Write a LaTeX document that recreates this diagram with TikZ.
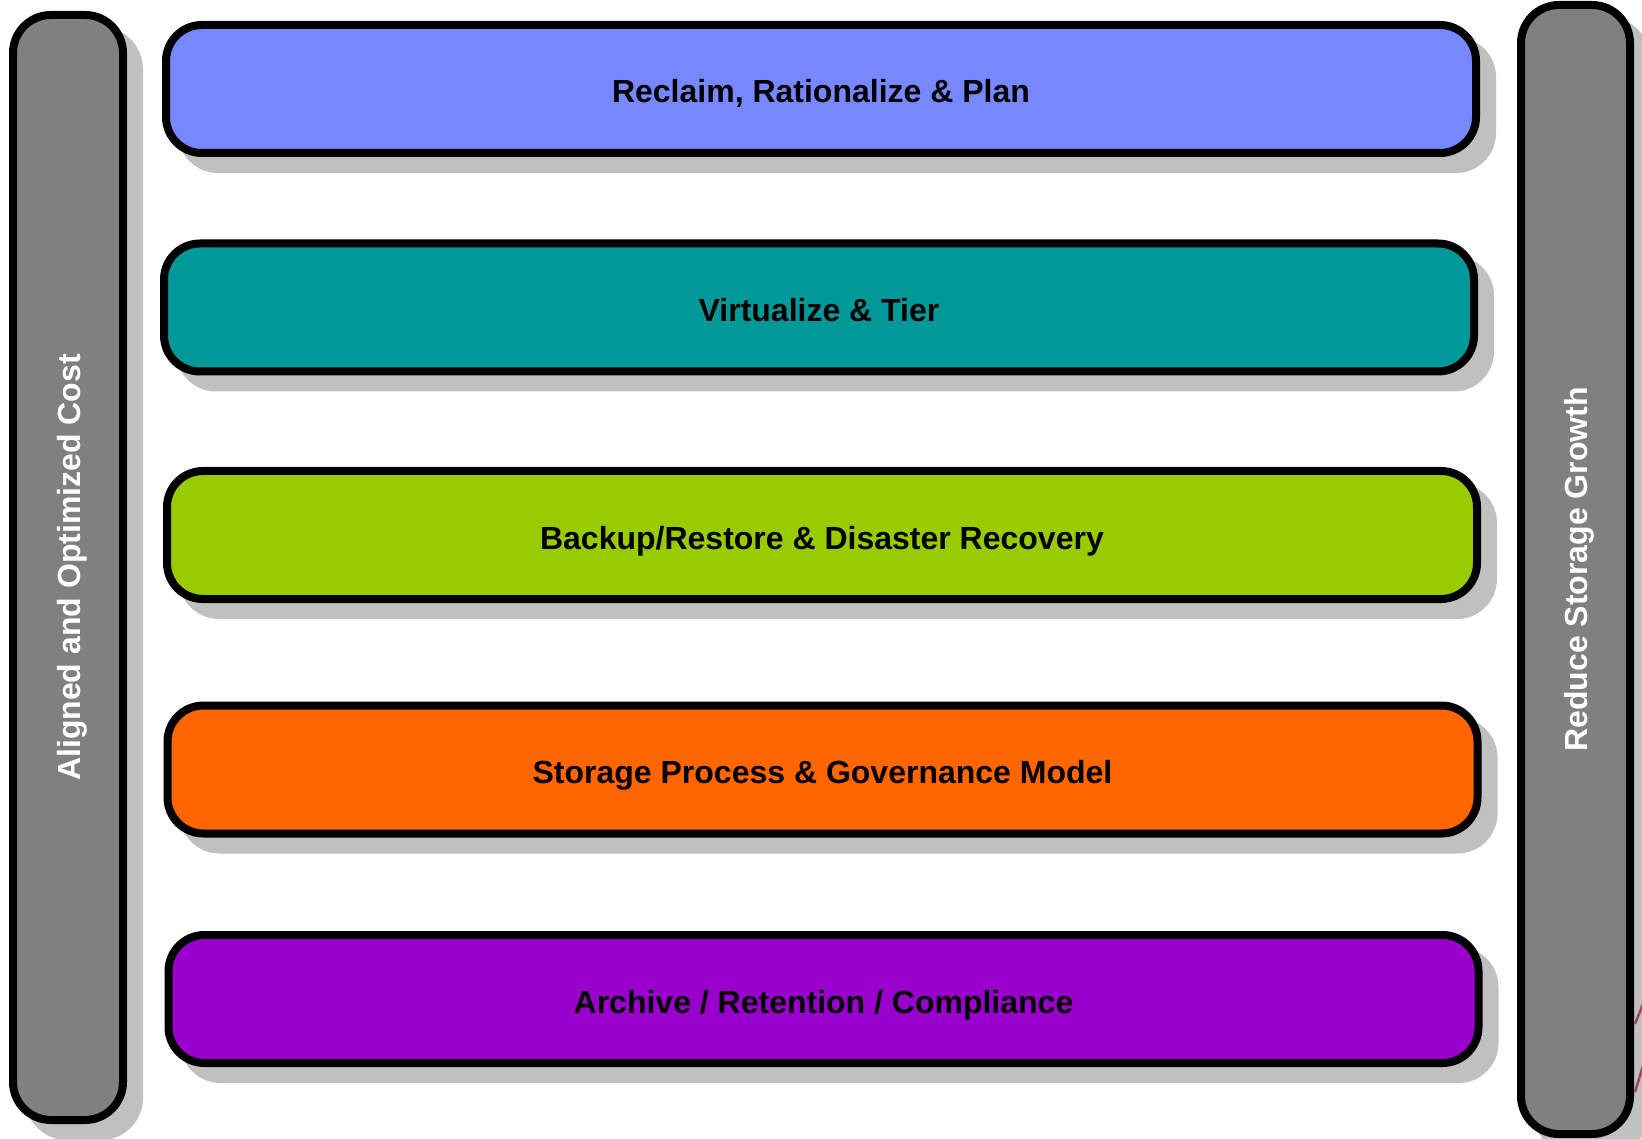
\documentclass[tikz,border=0pt]{standalone}
\usepackage{fontspec}
\setmainfont{Liberation Sans}
\usetikzlibrary{shadows}
\definecolor{layerblue}{HTML}{7788FF}
\definecolor{layerteal}{HTML}{009999}
\definecolor{layergreen}{HTML}{99CC00}
\definecolor{layerorange}{HTML}{FF6600}
\definecolor{layerpurple}{HTML}{9900CC}
\definecolor{bargray}{HTML}{808080}
\definecolor{shadowgray}{HTML}{C0C0C0}
\definecolor{strayred}{HTML}{A04858}
\begin{document}
\begin{tikzpicture}[x=1pt,y=-1pt,
  boxshadow/.style={drop shadow={shadow xshift=16pt, shadow yshift=-16pt, fill=shadowgray, draw=shadowgray, line width=8pt, opacity=1}},
  layerbox/.style={draw=black, line width=8pt, rounded corners=36pt, minimum width=1310pt, minimum height=128pt, inner sep=0pt, text=black, text height=28pt, text depth=0pt, font=\fontsize{32}{38}\selectfont\bfseries, boxshadow},
  sidebar/.style={draw=black, fill=bargray, line width=8pt, rounded corners=38pt, inner sep=0pt, boxshadow},
  sidelabel/.style={rotate=90, text=white, inner sep=0pt, text height=24pt, text depth=0pt, font=\fontsize{32}{38}\selectfont\bfseries},
  straymark/.style={draw=strayred, line width=2.5pt}]
\useasboundingbox (0,0) rectangle (1642,1139);
\fill[white] (0,0) rectangle (1642,1139);
% side bars
\node[sidebar, minimum width=110pt, minimum height=1105pt] (lbar) at (68,567.5) {};
\node[sidelabel] (llabel) at (lbar.center) {Aligned and Optimized Cost};
\node[sidebar, minimum width=109pt, minimum height=1129pt] (rbar) at (1575.5,569.5) {};
\node[sidelabel] (rlabel) at (rbar.center) {Reduce Storage Growth};
% layers
\node[layerbox, fill=layerblue]   (plan)    at (821,89)    {Reclaim, Rationalize \& Plan};
\node[layerbox, fill=layerteal]   (tier)    at (819,307.5) {Virtualize \& Tier};
\node[layerbox, fill=layergreen]  (backup)  at (822,535)   {Backup/Restore \& Disaster Recovery};
\node[layerbox, fill=layerorange] (govern)  at (822.5,769.5) {Storage Process \& Governance Model};
\node[layerbox, fill=layerpurple] (archive) at (823.5,999) {Archive / Retention / Compliance};
% stray marks at right edge
\draw[straymark] (1643,1004) -- (1635,1024);
\draw[straymark] (1643,1066) -- (1635,1092);
\end{tikzpicture}
\end{document}
